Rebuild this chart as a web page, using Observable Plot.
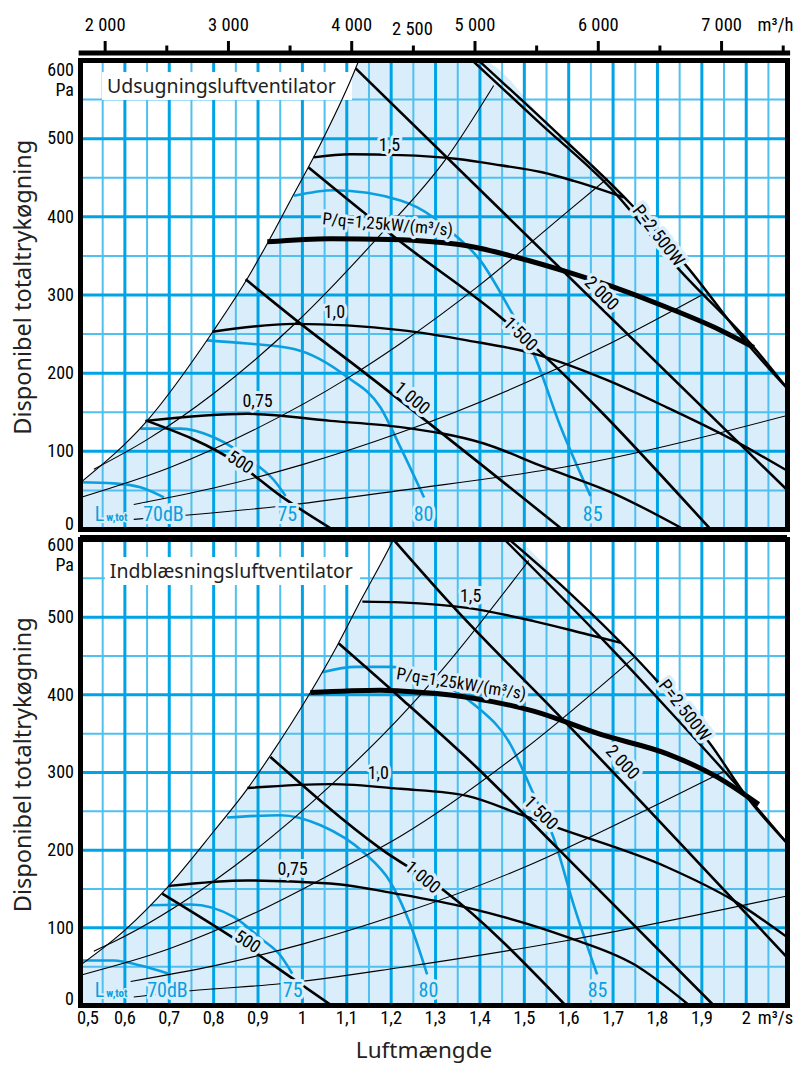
<!DOCTYPE html>
<html><head><meta charset="utf-8">
<script src="https://cdn.jsdelivr.net/npm/d3@7"></script>
<script src="https://cdn.jsdelivr.net/npm/@observablehq/plot@0.6"></script>
<style>
body{margin:0;background:#fff;}
#chart{position:relative;width:793px;height:1068px;overflow:hidden;background:#fff;}
#chart svg{position:absolute;left:0;}
</style></head><body><div id="chart"></div>
<script>
// ---------------- ticks / grid ----------------
const xTickValues = [0.5,0.6,0.7,0.8,0.9,1.0,1.1,1.2,1.3,1.4,1.5,1.6,1.7,1.8,1.9,2.0];
const yTickValues = [500,400,300,200,100];
const topTickMajor = [2000,3000,4000,5000,6000,7000];
const topTickMinor = [2500,3500,4500,5500,6500,7500];
const gridQMajor = [0.6,0.7,0.8,0.9,1.0,1.1,1.2,1.3,1.4,1.5,1.6,1.7,1.8,1.9,2.0];
const gridQMinor = [0.55,0.65,0.75,0.85,0.95,1.05,1.15,1.25,1.35,1.45,1.55,1.65,1.75,1.85,1.95,2.05];
const gridPMajor = [100,200,300,400,500];
const gridPMinor = [50,150,250,350,450,550];

// ---------------- Udsugning (top panel) ----------------
const uBoundary = [[0.5,60],[0.65,139],[0.797,252],[0.876,321],[0.921,366],[0.973,421],[1.045,498],[1.12,590],[1.127,600]];
const uMaxOuter = [[1.397,600],[1.559,515],[1.739,417],[1.867,336],[2.002,238],[2.093,180]];
const uMaxInner = [[1.383,600],[1.535,520],[1.694,437],[1.845,335],[2.017,233],[2.093,180]];
const uSys1 = [[0.62,13],[0.73,18],[0.944,29.5],[1.221,50],[1.65,86],[2.093,146]];
const uSys2 = [[0.62,32],[0.8,53],[1.0,83],[1.221,124],[1.5,187],[1.7,240],[1.9,300]];
const uSys3 = [[0.5,41],[0.7,79],[0.9,130],[1.1,193],[1.221,238],[1.4,313],[1.6,408],[1.687,449]];
const uSys4 = [[0.53,77],[0.65,115],[0.8,174],[0.992,268],[1.161,368],[1.326,476],[1.431,568]];
const uFan15 = [[1.025,476],[1.108,480],[1.221,479],[1.35,474],[1.446,466],[1.54,457],[1.611,446],[1.724,425]];
const uPq125 = [[0.921,368],[1.063,372],[1.198,371],[1.371,363],[1.484,348],[1.611,327],[1.717,307],[1.822,284],[1.942,255],[2.017,233]];
const uFan10 = [[0.797,253],[0.981,263],[1.221,255],[1.371,242],[1.521,225],[1.687,191],[1.822,156],[1.972,114],[2.093,75]];
const uFan075 = [[0.646,139],[0.876,148],[1.063,139],[1.221,131],[1.409,110],[1.544,80],[1.702,46],[1.86,0]];
const uP500 = [[0.65,139],[0.856,84],[0.951,43],[1.068,0]];
const uP1000 = [[0.872,320],[0.992,265],[1.139,201],[1.586,0]];
const uP1500 = [[1.014,463],[1.221,368],[1.446,272],[1.92,0]];
const uP2000 = [[1.12,590],[2.093,50]];
const uDb70 = [[0.5,60.5],[0.575,59],[0.635,54],[0.688,41]];
const uDb75 = [[0.635,129],[0.725,129],[0.80,118],[0.894,84],[0.936,63],[0.962,43]];
const uDb80 = [[0.785,242],[0.876,238],[0.981,231],[1.101,195],[1.176,156],[1.221,105],[1.274,41]];
const uDb85 = [[0.981,427],[1.071,434],[1.221,421],[1.259,412],[1.341,378],[1.401,344],[1.469,280],[1.521,225],[1.582,131],[1.649,43]];
const uLabels = [["1,5",1.196,492],["1,0",1.072,278],["0,75",0.899,164]];
const uPqLabel = [["P/q=1,25kW/(m³/s)",1.192,390]];
const uPowerLabels = [["500",0.86,86],["1 000",1.247,168],["1 500",1.491,250],["2 000",1.674,302],["P=2 500W",1.802,376]];
const uDbLabels = [["70dB",0.687,19],["75",0.966,19],["80",1.273,19],["85",1.654,19]];

// ---------------- Indblæsning (bottom panel) ----------------
const iBoundary = [[0.5,52],[0.6,97],[0.699,154],[0.8,224],[0.876,279],[0.928,322],[1.018,403],[1.078,463],[1.131,521],[1.198,592],[1.205,600]];
const iMaxOuter = [[1.466,600],[1.597,534],[1.747,450],[1.799,418],[1.920,336],[2.002,268],[2.092,209]];
const iMaxInner = [[1.455,600],[1.672,474],[1.85,365],[2.017,259],[2.092,209]];
const iSys1 = [[0.62,11],[0.748,19],[0.951,28],[1.221,49],[1.6,84],[2.092,141]];
const iSys2 = [[0.613,31],[0.8,51],[1.0,79],[1.221,118],[1.5,178],[1.75,245],[1.952,302]];
const iSys3 = [[0.5,39],[0.7,73],[0.9,121],[1.1,180],[1.221,218],[1.5,330],[1.747,448]];
const iSys4 = [[0.53,70],[0.575,82],[0.8,160],[1.063,283],[1.244,386],[1.319,435],[1.51,573]];
const iFan15 = [[1.135,520],[1.221,519],[1.371,512],[1.521,495],[1.641,478],[1.717,467]];
const iPq125 = [[1.018,403],[1.176,406],[1.221,405],[1.371,397],[1.521,379],[1.672,349],[1.822,324],[1.935,294],[2.028,259]];
const iFan10 = [[0.876,280],[1.063,285],[1.221,279],[1.371,270],[1.491,246],[1.574,229],[1.822,178],[1.972,135],[2.092,88]];
const iFan075 = [[0.699,154],[0.876,161],[1.063,157],[1.221,143],[1.371,126],[1.597,88],[1.747,53],[1.872,0]];
const iP500 = [[0.684,144],[0.876,75],[0.962,41],[1.066,0]];
const iP1000 = [[0.928,320],[1.176,202],[1.319,148],[1.593,0]];
const iP1500 = [[1.082,466],[1.221,396],[1.401,302],[1.574,203],[1.927,0]];
const iP2000 = [[1.205,600],[1.334,517],[1.582,371],[2.092,62]];
const iDb70 = [[0.5,58],[0.575,58],[0.635,51.5],[0.699,41]];
const iDb75 = [[0.658,129],[0.748,130],[0.845,114],[0.907,86],[0.951,64],[0.977,41]];
const iDb80 = [[0.830,242],[0.951,245],[1.041,232],[1.138,197],[1.198,159],[1.244,103],[1.281,40]];
const iDb85 = [[1.045,429],[1.12,436],[1.198,436],[1.30,418],[1.386,388],[1.469,336],[1.521,272],[1.566,216],[1.611,130],[1.664,40]];
const iLabels = [["1,5",1.379,527],["1,0",1.171,299],["0,75",0.978,175]];
const iPqLabel = [["P/q=1,25kW/(m³/s)",1.358,414]];
const iPowerLabels = [["500",0.876,82],["1 000",1.271,165],["1 500",1.537,248],["2 000",1.721,313],["P=2 500W",1.861,380]];
const iDbLabels = [["70dB",0.696,19],["75",0.978,19],["80",1.284,19],["85",1.665,19]];

// ---------------- styles ----------------
const FILL = "#d9eefa";
const GRID_MAJOR = "#00a4e6";
const GRID_MINOR = "#4fc0ef";
const BLUE = "#0a9fe0";
const X_DOMAIN = [0.5, 2.093];
const NARROW = '"Liberation Sans Narrow","Roboto Condensed","DejaVu Sans Condensed","Arial Narrow",sans-serif';
const SANS = '"Noto Sans","Liberation Sans",sans-serif';
const fmtQ = v => v === 1 ? "1" : v === 2 ? "2" : v.toFixed(1).replace(".", ",");

const X = d => d[0], Y = d => d[1], T = d => d[0], LX = d => d[1], LY = d => d[2];
function curve(data, opts) {
  return Plot.line(data, {x: X, y: Y, curve: "monotone-x", clip: "frame", strokeLinecap: "butt", ...opts});
}

function panel(d, cfg) {
  const envelope = [...d.boundary, ...d.maxOuter];
  const powerRot = [33, 40, 45, 45, 52].map((r, i) => r + (cfg.rotAdd[i] || 0));
  return Plot.plot({
    width: 793, height: cfg.height,
    marginLeft: 80, marginRight: 6, marginTop: cfg.mt, marginBottom: cfg.mb,
    x: {domain: X_DOMAIN, axis: null},
    y: {domain: [0, 600], axis: null},
    style: {background: "transparent", overflow: "visible", fontFamily: NARROW},
    marks: [
      Plot.areaY(envelope, {x: X, y: Y, curve: "monotone-x", fill: FILL, clip: "frame"}),
      Plot.ruleX(gridQMinor, {stroke: GRID_MINOR, strokeWidth: 2}),
      Plot.ruleY(gridPMinor, {stroke: GRID_MINOR, strokeWidth: 2}),
      Plot.ruleX(gridQMajor, {stroke: GRID_MAJOR, strokeWidth: 3}),
      Plot.ruleY(gridPMajor, {stroke: GRID_MAJOR, strokeWidth: 3}),
      Plot.rect([0], {x1: cfg.box[0], x2: cfg.box[1], y1: cfg.box[2], y2: cfg.box[3], fill: "#fff"}),
      Plot.text([d.title], {text: t => t, x: cfg.box[0] + 0.01, y: (cfg.box[2] + cfg.box[3]) / 2, textAnchor: "start",
        fontFamily: SANS, fontSize: 19.5, fill: "#222"}),
      ...d.db.map(c => curve(c, {stroke: BLUE, strokeWidth: 2.6})),
      curve(d.boundary, {stroke: "#000", strokeWidth: 1.1}),
      ...d.sys.map(c => curve(c, {stroke: "#000", strokeWidth: 1.1})),
      curve(d.maxOuter, {stroke: "#000", strokeWidth: 2.4}),
      curve(d.maxInner, {stroke: "#000", strokeWidth: 2.4}),
      ...d.power.map(c => curve(c, {stroke: "#000", strokeWidth: 2.6})),
      ...d.fans.map(c => curve(c, {stroke: "#000", strokeWidth: 2.4})),
      curve(d.pq, {stroke: "#000", strokeWidth: 5}),
      Plot.text(d.labels, {text: T, x: LX, y: LY, fontSize: 18, fill: "#000", stroke: FILL, strokeWidth: 6}),
      Plot.text(d.pqLabel, {text: T, x: LX, y: LY, fontSize: 17, rotate: cfg.pqRot, fill: "#000", stroke: FILL, strokeWidth: 6}),
      Plot.text(d.powerLabels, {text: T, x: LX, y: LY, fontSize: 18, rotate: (_, i) => powerRot[i], fill: "#000", stroke: FILL, strokeWidth: 7}),
      Plot.text(d.dbLabels, {text: T, x: LX, y: LY, fontSize: 20, fill: BLUE, stroke: FILL, strokeWidth: 6}),
      Plot.text(["L"], {text: t => t, x: 0.543, y: 19, fontSize: 20, fill: BLUE, stroke: FILL, strokeWidth: 4}),
      Plot.text(["w,tot"], {text: t => t, x: 0.582, y: 15, fontSize: 11, fontWeight: "bold", fill: BLUE, stroke: FILL, strokeWidth: 3}),
      Plot.frame({stroke: "#000", strokeWidth: 5}),
      ...(cfg.thickTop ? [Plot.ruleY([600], {stroke: "#000", strokeWidth: 3, dy: -3})] : []),
      Plot.text(yTickValues, {text: v => String(v), y: v => v, frameAnchor: "left", dx: -6.5, textAnchor: "end", fontSize: 18, fill: "#000"}),
      Plot.text(["600"], {text: t => t, y: 600, frameAnchor: "left", dx: -6.5, dy: cfg.dy600, textAnchor: "end", fontSize: 18, fill: "#000"}),
      Plot.text(["Pa"], {text: t => t, y: 600, frameAnchor: "left", dx: -6.5, dy: cfg.dy600 + 20, textAnchor: "end", fontSize: 18, fill: "#000"}),
      Plot.text(["0"], {text: t => t, y: 0, frameAnchor: "left", dx: -6.5, dy: cfg.dy0, textAnchor: "end", fontSize: 18, fill: "#000"}),
      Plot.text(["Disponibel totaltrykøgning"], {text: t => t, y: 310, frameAnchor: "left", dx: -57, rotate: -90,
        textAnchor: "middle", fontFamily: SANS, fontSize: 23.5, fill: "#222"}),
      ...(cfg.bottomAxis ? [
        Plot.text(xTickValues.slice(1), {text: fmtQ, x: v => v, frameAnchor: "bottom", dy: 18, textAnchor: "middle", fontSize: 18.5, fill: "#000"}),
        Plot.text([0.5], {text: fmtQ, x: v => v, frameAnchor: "bottom", dx: 7.5, dy: 18, textAnchor: "middle", fontSize: 18.5, fill: "#000"}),
        Plot.text(["m³/s"], {text: t => t, x: 2.066, frameAnchor: "bottom", dy: 18, textAnchor: "middle", fontSize: 18.5, fill: "#000"}),
        Plot.text(["Luftmængde"], {text: t => t, x: 1.274, frameAnchor: "bottom", dy: 52, textAnchor: "middle", fontFamily: SANS, fontSize: 22.5, fill: "#222"})
      ] : [])
    ]
  });
}

const axisTopPlot = Plot.plot({
  width: 793, height: 58, marginLeft: 80, marginRight: 6, marginTop: 0, marginBottom: 0,
  x: {domain: X_DOMAIN, axis: null},
  y: {domain: [0, 58], range: [58, 0], axis: null},
  style: {background: "transparent", overflow: "visible", fontFamily: NARROW},
  marks: [
    Plot.ruleY([5.5], {x1: 0.497, x2: 2.1, stroke: "#000", strokeWidth: 5}),
    Plot.ruleX(topTickMajor, {x: h => h / 3600, y1: 7, y2: 17, stroke: "#000", strokeWidth: 3}),
    Plot.ruleX(topTickMinor, {x: h => h / 3600, y1: 7, y2: 12.5, stroke: "#000", strokeWidth: 3}),
    Plot.text(topTickMajor, {x: h => h / 3600, y: 33, text: h => (h / 1000) + " 000", fontSize: 18.5, fill: "#000"}),
    Plot.text(["2 500"], {text: t => t, x: 1.248, y: 29.5, fontSize: 18.5, fill: "#000"}),
    Plot.text(["m³/h"], {text: t => t, x: 2.066, y: 33, fontSize: 18.5, fill: "#000"})
  ]
});

const panelTop = panel({
  title: "Udsugningsluftventilator",
  boundary: uBoundary, maxOuter: uMaxOuter, maxInner: uMaxInner,
  sys: [uSys1, uSys2, uSys3, uSys4],
  fans: [uFan15, uFan10, uFan075],
  power: [uP500, uP1000, uP1500, uP2000],
  pq: uPq125,
  db: [uDb70, uDb75, uDb80, uDb85],
  labels: uLabels, pqLabel: uPqLabel, powerLabels: uPowerLabels, dbLabels: uDbLabels
}, {height: 479, mt: 4, mb: 6, box: [0.5496, 1.113, 584.7, 548.8], pqRot: 5, rotAdd: [0,0,0,0,0],
    dy600: 10, dy0: -5.5, bottomAxis: false, thickTop: false});

const panelBottom = panel({
  title: "Indblæsningsluftventilator",
  boundary: iBoundary, maxOuter: iMaxOuter, maxInner: iMaxInner,
  sys: [iSys1, iSys2, iSys3, iSys4],
  fans: [iFan15, iFan10, iFan075],
  power: [iP500, iP1000, iP1500, iP2000],
  pq: iPq125,
  db: [iDb70, iDb75, iDb80, iDb85],
  labels: iLabels, pqLabel: iPqLabel, powerLabels: iPowerLabels, dbLabels: iDbLabels
}, {height: 533, mt: 4, mb: 63, box: [0.556, 1.131, 576.8, 540.8], pqRot: 9, rotAdd: [0,0,0,2,0],
    dy600: 6, dy0: -6.5, bottomAxis: true, thickTop: true});

const chartEl = document.getElementById("chart");
axisTopPlot.style.top = "0px";
panelTop.style.top = "56px";
panelBottom.style.top = "535px";
chartEl.append(panelTop, panelBottom, axisTopPlot);
</script></body></html>
